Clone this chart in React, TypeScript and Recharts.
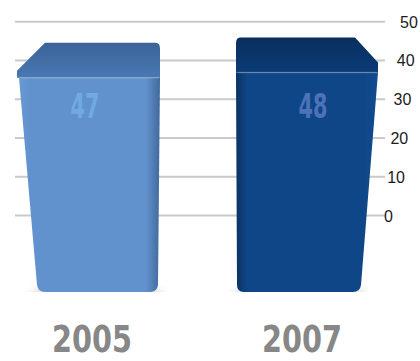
import { BarChart, Bar, XAxis, YAxis, CartesianGrid, Cell, LabelList } from 'recharts';

const years = ['2005', '2007'];
const values = [47, 48];
const scaleTicks = [0, 10, 20, 30, 40, 50];

const data = years.map((year, i) => ({ year, value: values[i] }));

// per-bar look: front face, top face, value label colour
const PALETTE = [
  { front: ['#6899d4', '#6192cd', '#41699c'], top: ['#3a6399', '#4a78b2'], label: '#70aae3' },
  { front: ['#0a3262', '#0f4687', '#114c8f'], top: ['#092f5e', '#0b3b77'], label: '#4c72ba' },
];

const NARROW = "'Liberation Sans Narrow', 'DejaVu Sans Condensed', 'Roboto Condensed', sans-serif";

function Block(props: any) {
  const { x, y, width: w, height, index } = props;
  const bottom = y + height;
  const depth = 35;
  const r = 7;
  const id = `b${index}`;
  let front: string;
  let top: string;
  if (index === 0) {
    // taper on the left side
    front = `M ${x + 1} ${y + depth} L ${x + w} ${y + depth} L ${x + w - 2} ${bottom - r}
      Q ${x + w - 3} ${bottom} ${x + w - 3 - r} ${bottom} L ${x + 20 + r} ${bottom}
      Q ${x + 20} ${bottom} ${x + 19} ${bottom - r} Z`;
    top = `M ${x + 27} ${y} L ${x + w - 4} ${y} Q ${x + w} ${y} ${x + w} ${y + 6} L ${x + w} ${y + depth}
      L ${x - 1} ${y + depth} L ${x - 1} ${y + 28} Z`;
  } else {
    front = `M ${x} ${y + depth} L ${x + w} ${y + depth} L ${x + w - 17} ${bottom - r}
      Q ${x + w - 18} ${bottom} ${x + w - 18 - r} ${bottom} L ${x + 1 + r} ${bottom}
      Q ${x + 1} ${bottom} ${x + 1} ${bottom - r} Z`;
    top = `M ${x + 4} ${y} L ${x + w - 23} ${y} L ${x + w} ${y + 25} L ${x + w} ${y + depth}
      L ${x} ${y + depth} L ${x} ${y + 6} Q ${x} ${y} ${x + 4} ${y} Z`;
  }
  const p = PALETTE[index];
  return (
    <g>
      <defs>
        <linearGradient id={`${id}f`} x1="0" y1="0" x2="1" y2="0">
          <stop offset="0%" stopColor={p.front[0]} />
          <stop offset="8%" stopColor={p.front[1]} />
          <stop offset="90%" stopColor={p.front[1]} />
          <stop offset="100%" stopColor={p.front[2]} />
        </linearGradient>
        <linearGradient id={`${id}t`} x1="0" y1="0" x2="0" y2="1">
          <stop offset="0%" stopColor={p.top[0]} />
          <stop offset="100%" stopColor={p.top[1]} />
        </linearGradient>
      </defs>
      <ellipse cx={x + w / 2 + (index === 0 ? 8 : -8)} cy={bottom + 3} rx={w / 2 - 4} ry={7}
        fill="#000" opacity={0.22} filter="url(#softShadow)" />
      <path d={front} fill={`url(#${id}f)`} />
      <path d={top} fill={`url(#${id}t)`} />
      <line x1={x + 2} x2={x + w - 1} y1={y + depth} y2={y + depth} stroke="#ffffff" strokeOpacity={0.18} strokeWidth={1.5} />
    </g>
  );
}

function ValueLabel(props: any) {
  const { x, width, value, index } = props;
  return (
    <text x={x + width / 2 - 4 + index * 10} y={118} textAnchor="middle" fill={PALETTE[index].label}
      fontFamily={NARROW} fontWeight="bold" fontSize={34} textLength={29} lengthAdjust="spacingAndGlyphs">
      {value}
    </text>
  );
}

function ScaleTick(props: any) {
  const { x, y, payload } = props;
  const v = payload.value;
  return (
    <text x={x - 1 + v * 0.32} y={y + 6} textAnchor="start" fill="#1c1c1c"
      fontFamily="'Liberation Sans', Arial, sans-serif" fontSize={16}>
      {v}
    </text>
  );
}

function YearTick(props: any) {
  const { x, y, payload, index } = props;
  return (
    <text x={x + (index === 0 ? 3 : -5)} y={y + 60} textAnchor="middle" fill="#878787"
      fontFamily={NARROW} fontWeight="bold" fontSize={37} textLength={80} lengthAdjust="spacingAndGlyphs">
      {payload.value}
    </text>
  );
}

export default function App() {
  return (
    <div style={{ position: 'absolute', left: 0, top: 0, width: 420, height: 361, background: '#fff' }}>
      <BarChart width={420} height={361} data={data} margin={{ top: 10, right: 0, left: 15, bottom: 0 }}>
        <defs>
          <filter id="softShadow" x="-20%" y="-200%" width="140%" height="500%">
            <feGaussianBlur stdDeviation="4" />
          </filter>
        </defs>
        <CartesianGrid yAxisId="scale" vertical={false} syncWithTicks stroke="#c9c9c9" strokeWidth={2} />
        <XAxis dataKey="year" axisLine={false} tickLine={false} tickSize={0} tickMargin={0} height={69}
          padding={{ left: -35, right: -31 }} tick={<YearTick />} interval={0} />
        <YAxis yAxisId="scale" orientation="right" width={35} domain={[-19.7, 53]} ticks={scaleTicks}
          axisLine={false} tickLine={false} tickSize={0} tickMargin={0} tick={<ScaleTick />} allowDataOverflow />
        <YAxis yAxisId="bars" hide domain={[0, 53.2]} allowDataOverflow />
        <Bar yAxisId="bars" dataKey="value" barSize={142} shape={<Block />} isAnimationActive={false}>
          {data.map((d, i) => (
            <Cell key={d.year} fill={PALETTE[i].front[1]} />
          ))}
          <LabelList dataKey="value" content={<ValueLabel />} />
        </Bar>
      </BarChart>
    </div>
  );
}
